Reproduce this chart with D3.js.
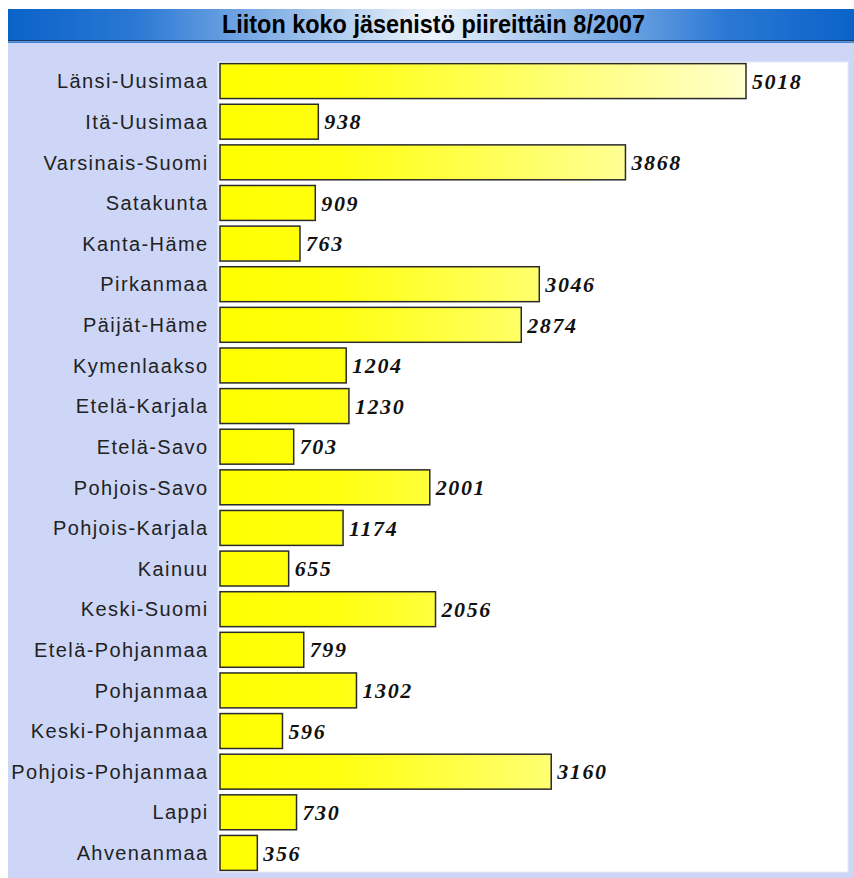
<!DOCTYPE html>
<html>
<head>
<meta charset="utf-8">
<script src="https://cdnjs.cloudflare.com/ajax/libs/d3/7.8.5/d3.min.js"></script>
<style>
  body { margin: 0; background: #fff; }
  svg { display: block; }
</style>
</head>
<body>
<div id="canvas"></div>
<script>
// Data
var title = 'Liiton koko jäsenistö piireittäin 8/2007';
var districts = ['Länsi-Uusimaa','Itä-Uusimaa','Varsinais-Suomi','Satakunta','Kanta-Häme',
  'Pirkanmaa','Päijät-Häme','Kymenlaakso','Etelä-Karjala','Etelä-Savo','Pohjois-Savo',
  'Pohjois-Karjala','Kainuu','Keski-Suomi','Etelä-Pohjanmaa','Pohjanmaa','Keski-Pohjanmaa',
  'Pohjois-Pohjanmaa','Lappi','Ahvenanmaa'];
var members = [5018,938,3868,909,763,3046,2874,1204,1230,703,2001,1174,655,2056,799,1302,596,3160,730,356];

var W = 854, H = 878;
var svg = d3.select('#canvas').append('svg').attr('width', W).attr('height', H);
var defs = svg.append('defs');

// title bar gradient (dark blue edges, pale centre)
var tg = defs.append('linearGradient').attr('id','titleGrad');
tg.append('stop').attr('offset','0%').attr('stop-color','#0a62c8');
tg.append('stop').attr('offset','15%').attr('stop-color','#2a78d4');
tg.append('stop').attr('offset','50%').attr('stop-color','#eef4fb');
tg.append('stop').attr('offset','85%').attr('stop-color','#2a78d4');
tg.append('stop').attr('offset','100%').attr('stop-color','#0a62c8');

// lavender panel
svg.append('rect').attr('x',8).attr('y',43).attr('width',W-8).attr('height',H-43).attr('fill','#cdd6f6');

// title bar
svg.append('rect').attr('x',8).attr('y',9).attr('width',W-8).attr('height',32).attr('fill','url(#titleGrad)');
svg.append('rect').attr('x',8).attr('y',40).attr('width',W-8).attr('height',1.5).attr('fill','#123a6e');
svg.append('rect').attr('x',8).attr('y',41.5).attr('width',W-8).attr('height',1.5).attr('fill','#3d86e0');
svg.append('text').attr('x',433.5).attr('y',33)
  .attr('text-anchor','middle')
  .attr('textLength', 423).attr('lengthAdjust','spacingAndGlyphs')
  .style('font-family','"Liberation Sans Narrow","Arial Narrow","Liberation Sans",sans-serif')
  .style('font-weight','bold').style('font-size','25px').attr('fill','#000')
  .text(title);

// white plot area
var plotTop = 62, plotBottom = 872;
svg.append('rect').attr('x',218).attr('y',plotTop).attr('width',848-218).attr('height',plotBottom-plotTop)
  .attr('fill','#fff').attr('stroke','#e6e9f8').attr('stroke-width',1);

// scales
var x = d3.scaleLinear().domain([0, 5018]).range([220, 746]);
var y = d3.scaleBand().domain(districts).range([plotTop, plotBottom]).paddingInner(0.14).paddingOuter(0.04);

// bar gradient, yellow to pale across the plot width
var bg = defs.append('linearGradient').attr('id','barGrad').attr('gradientUnits','userSpaceOnUse')
  .attr('x1', x(0)).attr('x2', x(5018)).attr('y1',0).attr('y2',0);
bg.append('stop').attr('offset','0%').attr('stop-color','#ffff00');
bg.append('stop').attr('offset','22%').attr('stop-color','#ffff10');
bg.append('stop').attr('offset','100%').attr('stop-color','#ffffcc');

var rows = svg.selectAll('.row').data(districts).enter().append('g').attr('class','row');

rows.append('rect')
  .attr('x', x(0))
  .attr('y', function(d){ return y(d); })
  .attr('width', function(d,i){ return x(members[i]) - x(0); })
  .attr('height', y.bandwidth())
  .attr('fill','url(#barGrad)')
  .attr('stroke','#2b2b2b').attr('stroke-width',1.5);

rows.append('text')
  .attr('x', 208.5)
  .attr('y', function(d){ return y(d) + y.bandwidth()/2; })
  .attr('dy','0.36em')
  .attr('text-anchor','end')
  .style('font-family','"Liberation Sans",Arial,sans-serif')
  .style('font-size','20px').style('letter-spacing','1.4px').attr('fill','#222')
  .text(function(d){ return d; });

rows.append('text')
  .attr('x', function(d,i){ return x(members[i]) + 6; })
  .attr('y', function(d){ return y(d) + y.bandwidth()/2; })
  .attr('dy','0.35em')
  .style('font-family','"Liberation Serif","Times New Roman",serif')
  .style('font-weight','bold').style('font-style','italic')
  .style('font-size','22px').style('letter-spacing','1.6px').attr('fill','#111')
  .text(function(d,i){ return members[i]; });
</script>
</body>
</html>
